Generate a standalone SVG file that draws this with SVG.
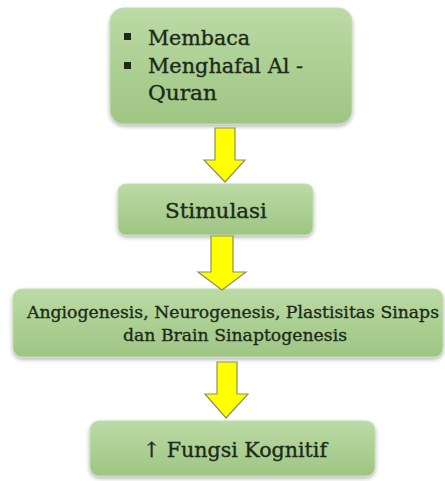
<svg xmlns="http://www.w3.org/2000/svg" width="445" height="481" viewBox="0 0 445 481">
<defs>
<linearGradient id="g" x1="0" y1="0" x2="0" y2="1">
<stop offset="0" stop-color="#bcdaa6"/>
<stop offset="0.5" stop-color="#acd093"/>
<stop offset="1" stop-color="#9fc585"/>
</linearGradient>
<filter id="sh" x="-10%" y="-10%" width="120%" height="130%">
<feGaussianBlur in="SourceAlpha" stdDeviation="2"/>
<feOffset dx="0" dy="2"/>
<feComponentTransfer><feFuncA type="linear" slope="0.3"/></feComponentTransfer>
<feMerge><feMergeNode/><feMergeNode in="SourceGraphic"/></feMerge>
</filter>
</defs>
<style>
.box{fill:url(#g);stroke:#c2dcae;stroke-width:1;filter:url(#sh)}
.t{font-family:"DejaVu Serif","Liberation Serif",serif;fill:#1c2a17;stroke:#1c2a17;stroke-width:0.35}
.arr{fill:#ffff00;stroke:#8f9060;stroke-width:1.2;stroke-linejoin:miter}
</style>
<rect width="445" height="481" fill="#ffffff"/>
<g id="node1">
<rect class="box" x="110" y="8" width="242" height="116" rx="14"/>
<rect x="124" y="33" width="7" height="7" fill="#1c2a17"/>
<rect x="124" y="62" width="7" height="7" fill="#1c2a17"/>
<text class="t" x="148" y="45" font-size="20.5" textLength="102" lengthAdjust="spacingAndGlyphs">Membaca</text>
<text class="t" x="148" y="73" font-size="20.5" textLength="155" lengthAdjust="spacingAndGlyphs">Menghafal Al -</text>
<text class="t" x="148" y="100" font-size="20.5" textLength="69" lengthAdjust="spacingAndGlyphs">Quran</text>
</g>
<g id="node2">
<rect class="box" x="118" y="184" width="195" height="51" rx="8"/>
<text class="t" x="216" y="218" font-size="20.5" text-anchor="middle" textLength="102" lengthAdjust="spacingAndGlyphs">Stimulasi</text>
</g>
<g id="node3">
<rect class="box" x="13" y="289" width="430" height="68" rx="9"/>
<text class="t" x="233" y="318" font-size="17.5" text-anchor="middle" textLength="412" lengthAdjust="spacingAndGlyphs">Angiogenesis, Neurogenesis, Plastisitas Sinaps</text>
<text class="t" x="235" y="341" font-size="17.5" text-anchor="middle" textLength="224" lengthAdjust="spacingAndGlyphs">dan Brain Sinaptogenesis</text>
</g>
<g id="node4">
<rect class="box" x="90" y="421" width="285" height="55" rx="9"/>
<text class="t" x="235" y="457" font-size="21" text-anchor="middle" textLength="184" lengthAdjust="spacingAndGlyphs">↑ Fungsi Kognitif</text>
</g>
<g id="connectors">
<path class="arr" d="M215,128 H235 V160 H245 L225,182 L204,160 H215 Z"/>
<path class="arr" d="M211,236 H233 V272 H246 L222,290 L198,272 H211 Z"/>
<path class="arr" d="M217,362 H237 V394 H248 L226,418 L205,394 H217 Z"/>
</g>
</svg>
